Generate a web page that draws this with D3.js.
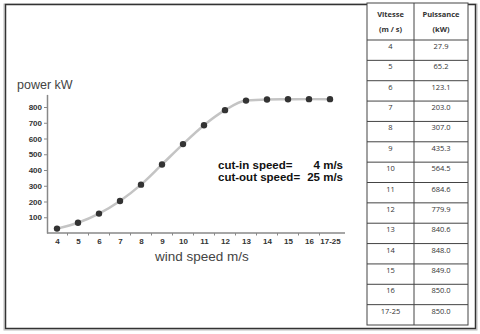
<!DOCTYPE html>
<html>
<head>
<meta charset="utf-8">
<script src="https://cdn.jsdelivr.net/npm/d3@7"></script>
<style>
  body { margin: 0; background: #fff; }
  svg { display: block; font-family: "Liberation Sans", Arial, sans-serif; }
</style>
</head>
<body>
<div class="plot"></div>
<script>
const speeds = ["4", "5", "6", "7", "8", "9", "10", "11", "12", "13", "14", "15", "16", "17-25"];
const power = [27.9, 65.2, 123.1, 203.0, 307.0, 435.3, 564.5, 684.6, 779.9, 840.6, 848.0, 849.0, 850.0, 850.0];
const yTicks = [100, 200, 300, 400, 500, 600, 700, 800];
const tableHead = [["Vitesse", "(m / s)"], ["Puissance", "(kW)"]];

const svg = d3.select(".plot").append("svg")
    .attr("width", 480)
    .attr("height", 334);

// outer frame with a light shadow
svg.append("rect")
    .attr("x", 4).attr("y", 4).attr("width", 473).attr("height", 326)
    .attr("fill", "none").attr("stroke", "#bbb").attr("stroke-width", 1);
svg.append("rect")
    .attr("x", 5.5).attr("y", 4.5).attr("width", 470).attr("height", 324)
    .attr("fill", "none").attr("stroke", "#333").attr("stroke-width", 1.5);

const x = d3.scalePoint().domain(speeds).range([57, 330]);
const y = d3.scaleLinear().domain([0, 880]).range([233, 94.4]);

// y axis
const yAxis = svg.append("g")
    .attr("transform", "translate(47,0)")
    .call(d3.axisLeft(y).tickValues(yTicks).tickSize(3).tickSizeOuter(0).tickPadding(2));
yAxis.select(".domain").attr("stroke", "#888").attr("stroke-width", 1.5);
yAxis.selectAll(".tick line").attr("stroke", "#888");
yAxis.selectAll(".tick text")
    .attr("fill", "#333")
    .style("font-size", "8px")
    .style("font-weight", "bold");

// x axis
svg.append("line")
    .attr("x1", 47).attr("x2", 345)
    .attr("y1", y(0)).attr("y2", y(0))
    .attr("stroke", "#888").attr("stroke-width", 1.5);

const xAxis = svg.append("g")
    .attr("transform", `translate(0,${y(0)})`)
    .call(d3.axisBottom(x).tickSize(0).tickPadding(5));
xAxis.select(".domain").remove();
xAxis.selectAll(".tick text")
    .attr("fill", "#333")
    .style("font-size", "8px")
    .style("font-weight", "bold");

// small ticks between the categories
const mids = d3.pairs(speeds).map(([a, b]) => (x(a) + x(b)) / 2);
svg.selectAll(".minor")
    .data(mids)
    .join("line")
    .attr("class", "minor")
    .attr("x1", (d) => d).attr("x2", (d) => d)
    .attr("y1", y(0)).attr("y2", y(0) + 2.5)
    .attr("stroke", "#888");

// curve and points
const line = d3.line()
    .x((d, i) => x(speeds[i]))
    .y((d) => y(d))
    .curve(d3.curveMonotoneX);

svg.append("path")
    .datum(power)
    .attr("d", line)
    .attr("fill", "none")
    .attr("stroke", "#c4c4c4")
    .attr("stroke-width", 2.5);

svg.selectAll(".dot")
    .data(power)
    .join("circle")
    .attr("class", "dot")
    .attr("cx", (d, i) => x(speeds[i]))
    .attr("cy", (d) => y(d))
    .attr("r", 3.2)
    .attr("fill", "#333");

// labels
svg.append("text")
    .attr("x", 17).attr("y", 89)
    .text("power kW")
    .style("font-size", "12.5px")
    .attr("fill", "#444");

svg.append("text")
    .attr("x", 155).attr("y", 261)
    .text("wind speed m/s")
    .style("font-size", "13.5px")
    .attr("fill", "#444");

const notes = [["cut-in speed=", "4 m/s"], ["cut-out speed=", "25 m/s"]];
notes.forEach(([a, b], i) => {
    svg.append("text")
        .attr("x", 218).attr("y", 169 + i * 12)
        .text(a)
        .style("font-size", "11.5px").style("font-weight", "bold")
        .attr("fill", "#111");
    svg.append("text")
        .attr("x", 343).attr("y", 169 + i * 12)
        .attr("text-anchor", "end")
        .text(b)
        .style("font-size", "11.5px").style("font-weight", "bold")
        .attr("fill", "#111");
});

// table
const tx = [367, 414, 468];
const tTop = 3;
const headBottom = 40;
const tBottom = 325;
const rowH = (tBottom - headBottom) / speeds.length;
const table = svg.append("g");

table.append("rect")
    .attr("x", tx[0]).attr("y", tTop)
    .attr("width", tx[2] - tx[0]).attr("height", tBottom - tTop)
    .attr("fill", "#fff").attr("stroke", "#444").attr("stroke-width", 1);
table.append("line")
    .attr("x1", tx[1]).attr("x2", tx[1]).attr("y1", tTop).attr("y2", tBottom)
    .attr("stroke", "#444");
table.selectAll(".hline")
    .data(d3.range(speeds.length))
    .join("line")
    .attr("class", "hline")
    .attr("x1", tx[0]).attr("x2", tx[2])
    .attr("y1", (d) => headBottom + d * rowH)
    .attr("y2", (d) => headBottom + d * rowH)
    .attr("stroke", "#444");

tableHead.forEach((lines, c) => {
    lines.forEach((t, j) => {
        table.append("text")
            .attr("x", (tx[c] + tx[c + 1]) / 2)
            .attr("y", 17 + j * 15)
            .attr("text-anchor", "middle")
            .text(t)
            .style("font-size", "7.5px").style("font-weight", "bold")
            .style("font-family", "'Open Sans', sans-serif")
            .attr("fill", "#333");
    });
});

speeds.forEach((s, i) => {
    const yy = headBottom + i * rowH + 9;
    table.append("text")
        .attr("x", (tx[0] + tx[1]) / 2).attr("y", yy)
        .attr("text-anchor", "middle")
        .text(s)
        .style("font-size", "7.5px")
        .style("font-family", "'Open Sans', sans-serif")
        .attr("fill", "#333");
    table.append("text")
        .attr("x", (tx[1] + tx[2]) / 2).attr("y", yy)
        .attr("text-anchor", "middle")
        .text(power[i].toFixed(1))
        .style("font-size", "7.5px")
        .style("font-family", "'Open Sans', sans-serif")
        .attr("fill", "#333");
});
</script>
</body>
</html>
